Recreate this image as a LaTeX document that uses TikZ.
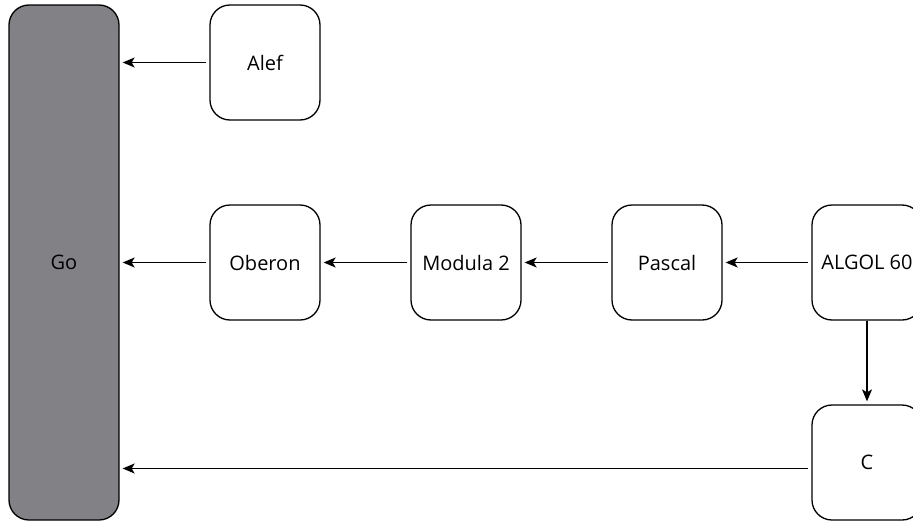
\documentclass[tikz,border=0pt]{standalone}
\usepackage{fontspec}
\setmainfont{Open Sans}
\usetikzlibrary{arrows.meta}
\definecolor{gobar}{RGB}{130,129,134}

\begin{document}
\begin{tikzpicture}[x=1pt,y=-1pt,
  lang/.style={draw,line width=1.3pt,rounded corners=20pt,minimum width=110pt,minimum height=115pt,inner sep=0pt,font=\fontsize{20}{24}\selectfont},
  arr/.style={-{Stealth[length=12pt,width=10pt,inset=3pt]},line width=1.3pt,shorten >=3pt,shorten <=3pt}]
  \useasboundingbox (0,0) rectangle (913,522);
  \node [lang,fill=gobar,minimum height=515pt] (Go) at (64,262.5) {Go};
  \node [lang] (Alef) at (265,62.5) {Alef};
  \node [lang] (Oberon) at (265,262.5) {Oberon};
  \node [lang] (Modula) at (466,262.5) {Modula 2};
  \node [lang] (Pascal) at (667,262.5) {Pascal};
  \node [lang] (Algol) at (867,262.5) {ALGOL 60};
  \node [lang] (C) at (867,462.5) {C};
  \draw [arr] (Alef.west) -- (Alef.west -| Go.east);
  \draw [arr] (Oberon) -- (Go);
  \draw [arr] (Modula) -- (Oberon);
  \draw [arr] (Pascal) -- (Modula);
  \draw [arr] (Algol) -- (Pascal);
  \draw [arr,shorten <=0pt] (Algol) -- (C);
  \draw [arr] ([yshift=-6pt]C.west) -- ([yshift=-6pt]C.west -| Go.east);
\end{tikzpicture}
\end{document}
